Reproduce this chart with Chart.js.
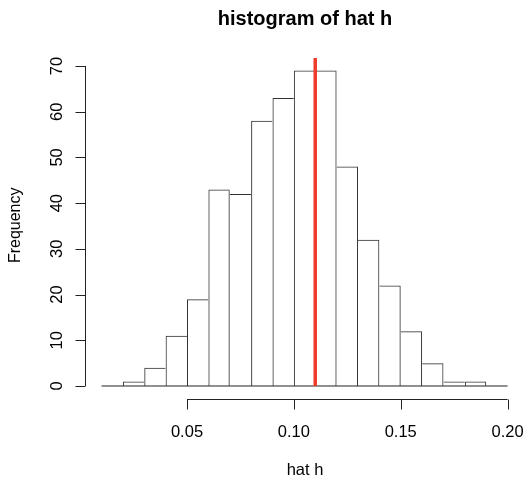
<!DOCTYPE html>
<html>
<head>
<meta charset="utf-8">
<script src="https://cdn.jsdelivr.net/npm/chart.js@4"></script>
<style>
  html, body { margin: 0; padding: 0; background: #fff; }
  #wrap { width: 524px; height: 477px; position: relative; }
</style>
</head>
<body>
<div id="wrap"><canvas id="histChart"></canvas></div>
<script>
// data histogram, lebar bin 0.01
const binStarts = [0.02, 0.03, 0.04, 0.05, 0.06, 0.07, 0.08, 0.09, 0.10, 0.11, 0.12, 0.13, 0.14, 0.15, 0.16, 0.17, 0.18];
const counts = [1, 4, 11, 19, 43, 42, 58, 63, 69, 69, 48, 32, 22, 12, 5, 1, 1];
const binWidth = 0.01;
const xTicks = [0.05, 0.10, 0.15, 0.20];
const yTicks = [0, 10, 20, 30, 40, 50, 60, 70];
const baseLine = [0.01, 0.20];
const markX = 0.11;
const markY = [0, 71.75];

const fontFam = "'Liberation Sans', Arial, Helvetica, sans-serif";

// sumbu gaya R digambar manual
const rAxes = {
    id: "rAxes",
    afterDraw(chart) {
        const ctx = chart.ctx;
        const xs = chart.scales.x, ys = chart.scales.y;
        const area = chart.chartArea;
        ctx.save();
        ctx.strokeStyle = "#222";
        ctx.fillStyle = "#000";
        ctx.lineWidth = 1;

        // sumbu x
        const ay = Math.round(area.bottom) + 0.5;
        ctx.beginPath();
        ctx.moveTo(xs.getPixelForValue(xTicks[0]), ay);
        ctx.lineTo(xs.getPixelForValue(xTicks[xTicks.length - 1]), ay);
        xTicks.forEach(v => {
            const px = Math.round(xs.getPixelForValue(v)) + 0.5;
            ctx.moveTo(px, ay);
            ctx.lineTo(px, ay + 10);
        });
        ctx.stroke();
        ctx.font = "16.5px " + fontFam;
        ctx.textAlign = "center";
        ctx.textBaseline = "alphabetic";
        xTicks.forEach(v => {
            ctx.fillText(v.toFixed(2), xs.getPixelForValue(v), ay + 37);
        });

        // sumbu y
        const ax = Math.round(area.left) - 0.5;
        ctx.beginPath();
        ctx.moveTo(ax, ys.getPixelForValue(yTicks[0]));
        ctx.lineTo(ax, ys.getPixelForValue(yTicks[yTicks.length - 1]));
        yTicks.forEach(v => {
            const py = Math.round(ys.getPixelForValue(v)) + 0.5;
            ctx.moveTo(ax, py);
            ctx.lineTo(ax - 10, py);
        });
        ctx.stroke();
        yTicks.forEach(v => {
            ctx.save();
            ctx.translate(ax - 23.5, ys.getPixelForValue(v));
            ctx.rotate(-Math.PI / 2);
            ctx.fillText(String(v), 0, 0);
            ctx.restore();
        });

        // judul dan label
        const midX = (area.left + chart.width) / 2;
        ctx.fillText("hat h", midX, 475);
        ctx.save();
        ctx.translate(19.5, (area.top + area.bottom) / 2 - 3);
        ctx.rotate(-Math.PI / 2);
        ctx.font = "16px " + fontFam;
        ctx.fillText("Frequency", 0, 0);
        ctx.restore();
        ctx.font = "bold 20px " + fontFam;
        ctx.fillText("histogram of hat h", midX, 25);
        ctx.restore();
    }
};

document.addEventListener("DOMContentLoaded", () => {
    const last = counts.length - 1;
    new Chart(document.getElementById("histChart"), {
        type: "bar",
        data: {
            datasets: [
                {
                    type: "line",
                    label: "mark",
                    data: markY.map(y => ({ x: markX, y: y })),
                    borderColor: "#ee3b2b",
                    borderWidth: 3.5,
                    pointRadius: 0,
                    order: 0
                },
                {
                    type: "bar",
                    label: "Frequency",
                    data: binStarts.map((b, i) => ({ x: b + binWidth / 2, y: counts[i] })),
                    backgroundColor: "rgba(255,255,255,0)",
                    borderColor: "#333",
                    borderSkipped: false,
                    inflateAmount: 0,
                    borderWidth: c => {
                        const i = c.dataIndex;
                        return {
                            top: 1,
                            bottom: 0,
                            left: (i === 0 || counts[i - 1] <= counts[i]) ? 1 : 0,
                            right: (i === last || counts[i + 1] < counts[i]) ? 1 : 0
                        };
                    },
                    barPercentage: 1,
                    categoryPercentage: 1,
                    order: 1
                },
                {
                    type: "line",
                    label: "base",
                    data: baseLine.map(x => ({ x: x, y: 0 })),
                    borderColor: "#222",
                    borderWidth: 1,
                    pointRadius: 0,
                    order: 2
                }
            ]
        },
        options: {
            responsive: true,
            maintainAspectRatio: false,
            animation: false,
            layout: { padding: { left: 86, right: 16, top: 58, bottom: 78.4 } },
            plugins: {
                legend: { display: false },
                tooltip: { enabled: false },
                title: { display: false }
            },
            scales: {
                x: {
                    type: "linear",
                    display: false,
                    offset: false,
                    min: 0.00274,
                    max: 0.2002,
                    afterBuildTicks: s => { s.ticks = xTicks.map(v => ({ value: v })); }
                },
                y: {
                    type: "linear",
                    display: false,
                    min: -2.757,
                    max: 71.75,
                    afterBuildTicks: s => { s.ticks = yTicks.map(v => ({ value: v })); }
                }
            }
        },
        plugins: [rAxes]
    });
});
</script>
</body>
</html>
